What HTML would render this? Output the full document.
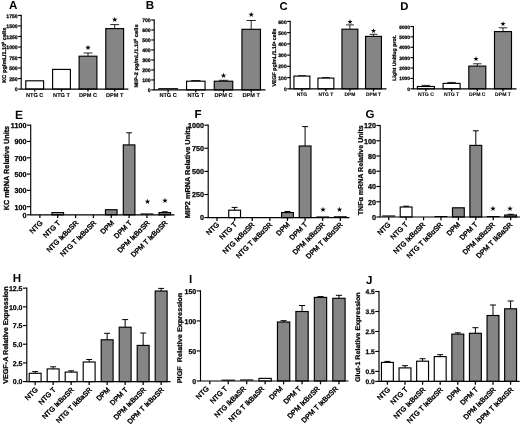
<!DOCTYPE html>
<html><head><meta charset="utf-8"><title>Figure</title>
<style>
html,body{margin:0;padding:0;background:#fff;}
svg{display:block;font-family:"Liberation Sans", Arial, sans-serif;fill:#000;}
.s text{stroke:#000;stroke-width:0.1px;}
text.b{stroke:#000;stroke-width:0.25px;}
text.r{stroke:#000;stroke-width:0.4px;}
text.st{font-family:'DejaVu Sans','Liberation Sans',sans-serif;stroke:none !important;}
</style></head><body>
<svg width="520" height="429" viewBox="0 0 520 429" text-rendering="geometricPrecision">
<rect width="520" height="429" fill="#fff"/>
<defs><filter id="bl" x="0" y="0" width="520" height="429" filterUnits="userSpaceOnUse" color-interpolation-filters="sRGB"><feGaussianBlur stdDeviation="0.4"/></filter></defs>
<g filter="url(#bl)">
<g class="s">
<rect x="25.80" y="80.80" width="17.80" height="8.30" fill="white" stroke="#000" stroke-width="1.15"/>
<rect x="52.60" y="69.40" width="17.80" height="19.70" fill="white" stroke="#000" stroke-width="1.15"/>
<path d="M88.00 56.20V53.00M83.55 53.00H92.45" stroke="#000" stroke-width="0.85" fill="none"/>
<rect x="79.10" y="56.20" width="17.80" height="32.90" fill="#858585" stroke="#000" stroke-width="1.15"/>
<text class="st" x="88.00" y="50.08" font-size="7.26" text-anchor="middle">&#9733;</text>
<path d="M114.70 28.60V24.60M110.25 24.60H119.15" stroke="#000" stroke-width="0.85" fill="none"/>
<rect x="105.80" y="28.60" width="17.80" height="60.50" fill="#858585" stroke="#000" stroke-width="1.15"/>
<text class="st" x="114.70" y="22.18" font-size="7.26" text-anchor="middle">&#9733;</text>
<path d="M21.20 14.83V89.10H128.40" stroke="#000" stroke-width="1.15" fill="none" stroke-linejoin="miter"/>
<line x1="18.20" y1="89.10" x2="21.20" y2="89.10" stroke="#000" stroke-width="1.15"/>
<text class="b" x="17.70" y="91.24" font-size="5.10" text-anchor="end" font-weight="bold">0</text>
<line x1="18.20" y1="78.57" x2="21.20" y2="78.57" stroke="#000" stroke-width="1.15"/>
<text class="b" x="17.70" y="80.71" font-size="5.10" text-anchor="end" font-weight="bold">250</text>
<line x1="18.20" y1="68.04" x2="21.20" y2="68.04" stroke="#000" stroke-width="1.15"/>
<text class="b" x="17.70" y="70.18" font-size="5.10" text-anchor="end" font-weight="bold">500</text>
<line x1="18.20" y1="57.51" x2="21.20" y2="57.51" stroke="#000" stroke-width="1.15"/>
<text class="b" x="17.70" y="59.65" font-size="5.10" text-anchor="end" font-weight="bold">750</text>
<line x1="18.20" y1="46.99" x2="21.20" y2="46.99" stroke="#000" stroke-width="1.15"/>
<text class="b" x="17.70" y="49.12" font-size="5.10" text-anchor="end" font-weight="bold">1000</text>
<line x1="18.20" y1="36.46" x2="21.20" y2="36.46" stroke="#000" stroke-width="1.15"/>
<text class="b" x="17.70" y="38.59" font-size="5.10" text-anchor="end" font-weight="bold">1250</text>
<line x1="18.20" y1="25.93" x2="21.20" y2="25.93" stroke="#000" stroke-width="1.15"/>
<text class="b" x="17.70" y="28.06" font-size="5.10" text-anchor="end" font-weight="bold">1500</text>
<line x1="18.20" y1="15.40" x2="21.20" y2="15.40" stroke="#000" stroke-width="1.15"/>
<text class="b" x="17.70" y="17.54" font-size="5.10" text-anchor="end" font-weight="bold">1750</text>
<line x1="34.70" y1="89.10" x2="34.70" y2="91.60" stroke="#000" stroke-width="1.25"/>
<text x="34.70" y="96.60" font-size="5.60" text-anchor="middle" font-weight="bold">NTG C</text>
<line x1="61.50" y1="89.10" x2="61.50" y2="91.60" stroke="#000" stroke-width="1.25"/>
<text x="61.50" y="96.60" font-size="5.60" text-anchor="middle" font-weight="bold">NTG T</text>
<line x1="88.00" y1="89.10" x2="88.00" y2="91.60" stroke="#000" stroke-width="1.25"/>
<text x="88.00" y="96.60" font-size="5.60" text-anchor="middle" font-weight="bold">DPM C</text>
<line x1="114.70" y1="89.10" x2="114.70" y2="91.60" stroke="#000" stroke-width="1.25"/>
<text x="114.70" y="96.60" font-size="5.60" text-anchor="middle" font-weight="bold">DPM T</text>
<text class="b" transform="translate(5.90 55.20) rotate(-90)" font-size="5.40" text-anchor="middle" font-weight="bold" textLength="55.0" lengthAdjust="spacingAndGlyphs">KC pg/mL/1.10<tspan font-size="3.2" dy="-2.2">5</tspan><tspan dy="2.2"> </tspan>cells</text>
</g>
<text x="8.90" y="9.00" font-size="11.60" font-weight="bold">A</text>
<g class="s">
<line x1="158.25" y1="88.70" x2="177.95" y2="88.70" stroke="#000" stroke-width="1.15"/>
<path d="M195.80 81.20V80.50M191.18 80.50H200.43" stroke="#000" stroke-width="0.85" fill="none"/>
<rect x="186.55" y="81.20" width="18.50" height="8.70" fill="white" stroke="#000" stroke-width="1.15"/>
<path d="M223.50 81.20V80.30M218.88 80.30H228.12" stroke="#000" stroke-width="0.85" fill="none"/>
<rect x="214.25" y="81.20" width="18.50" height="8.70" fill="#858585" stroke="#000" stroke-width="1.15"/>
<text class="st" x="223.50" y="78.08" font-size="7.26" text-anchor="middle">&#9733;</text>
<path d="M251.20 29.30V20.50M246.57 20.50H255.82" stroke="#000" stroke-width="0.85" fill="none"/>
<rect x="241.95" y="29.30" width="18.50" height="60.60" fill="#858585" stroke="#000" stroke-width="1.15"/>
<text class="st" x="251.20" y="17.38" font-size="7.26" text-anchor="middle">&#9733;</text>
<path d="M154.20 19.43V89.90H265.50" stroke="#000" stroke-width="1.15" fill="none" stroke-linejoin="miter"/>
<line x1="151.20" y1="89.90" x2="154.20" y2="89.90" stroke="#000" stroke-width="1.15"/>
<text class="b" x="150.70" y="92.04" font-size="5.10" text-anchor="end" font-weight="bold">0</text>
<line x1="151.20" y1="79.91" x2="154.20" y2="79.91" stroke="#000" stroke-width="1.15"/>
<text class="b" x="150.70" y="82.05" font-size="5.10" text-anchor="end" font-weight="bold">100</text>
<line x1="151.20" y1="69.93" x2="154.20" y2="69.93" stroke="#000" stroke-width="1.15"/>
<text class="b" x="150.70" y="72.06" font-size="5.10" text-anchor="end" font-weight="bold">200</text>
<line x1="151.20" y1="59.94" x2="154.20" y2="59.94" stroke="#000" stroke-width="1.15"/>
<text class="b" x="150.70" y="62.08" font-size="5.10" text-anchor="end" font-weight="bold">300</text>
<line x1="151.20" y1="49.96" x2="154.20" y2="49.96" stroke="#000" stroke-width="1.15"/>
<text class="b" x="150.70" y="52.09" font-size="5.10" text-anchor="end" font-weight="bold">400</text>
<line x1="151.20" y1="39.97" x2="154.20" y2="39.97" stroke="#000" stroke-width="1.15"/>
<text class="b" x="150.70" y="42.11" font-size="5.10" text-anchor="end" font-weight="bold">500</text>
<line x1="151.20" y1="29.99" x2="154.20" y2="29.99" stroke="#000" stroke-width="1.15"/>
<text class="b" x="150.70" y="32.12" font-size="5.10" text-anchor="end" font-weight="bold">600</text>
<line x1="151.20" y1="20.00" x2="154.20" y2="20.00" stroke="#000" stroke-width="1.15"/>
<text class="b" x="150.70" y="22.14" font-size="5.10" text-anchor="end" font-weight="bold">700</text>
<line x1="168.10" y1="89.90" x2="168.10" y2="92.40" stroke="#000" stroke-width="1.25"/>
<text x="168.10" y="97.40" font-size="5.60" text-anchor="middle" font-weight="bold">NTG C</text>
<line x1="195.80" y1="89.90" x2="195.80" y2="92.40" stroke="#000" stroke-width="1.25"/>
<text x="195.80" y="97.40" font-size="5.60" text-anchor="middle" font-weight="bold">NTG T</text>
<line x1="223.50" y1="89.90" x2="223.50" y2="92.40" stroke="#000" stroke-width="1.25"/>
<text x="223.50" y="97.40" font-size="5.60" text-anchor="middle" font-weight="bold">DPM C</text>
<line x1="251.20" y1="89.90" x2="251.20" y2="92.40" stroke="#000" stroke-width="1.25"/>
<text x="251.20" y="97.40" font-size="5.60" text-anchor="middle" font-weight="bold">DPM T</text>
<text class="b" transform="translate(138.40 55.90) rotate(-90)" font-size="5.20" text-anchor="middle" font-weight="bold" textLength="63.0" lengthAdjust="spacingAndGlyphs">MIP-2 pg/mL/1.10<tspan font-size="3.1" dy="-2.1">5</tspan><tspan dy="2.1"> </tspan>cells</text>
</g>
<text x="145.80" y="9.40" font-size="11.60" font-weight="bold">B</text>
<g class="s">
<path d="M301.90 76.10V75.70M297.92 75.70H305.88" stroke="#000" stroke-width="0.85" fill="none"/>
<rect x="293.95" y="76.10" width="15.90" height="12.70" fill="white" stroke="#000" stroke-width="1.15"/>
<path d="M325.90 78.10V77.60M321.92 77.60H329.88" stroke="#000" stroke-width="0.85" fill="none"/>
<rect x="317.95" y="78.10" width="15.90" height="10.70" fill="white" stroke="#000" stroke-width="1.15"/>
<path d="M349.90 29.20V24.90M345.92 24.90H353.88" stroke="#000" stroke-width="0.85" fill="none"/>
<rect x="341.95" y="29.20" width="15.90" height="59.60" fill="#858585" stroke="#000" stroke-width="1.15"/>
<text class="st" x="349.90" y="24.01" font-size="6.73" text-anchor="middle">&#9733;</text>
<path d="M373.50 36.40V34.30M369.52 34.30H377.48" stroke="#000" stroke-width="0.85" fill="none"/>
<rect x="365.55" y="36.40" width="15.90" height="52.40" fill="#858585" stroke="#000" stroke-width="1.15"/>
<text class="st" x="373.50" y="33.11" font-size="6.73" text-anchor="middle">&#9733;</text>
<path d="M290.20 20.82V88.80H386.50" stroke="#000" stroke-width="1.15" fill="none" stroke-linejoin="miter"/>
<line x1="287.20" y1="88.80" x2="290.20" y2="88.80" stroke="#000" stroke-width="1.15"/>
<text class="b" x="286.70" y="90.90" font-size="5.00" text-anchor="end" font-weight="bold">0</text>
<line x1="287.20" y1="77.57" x2="290.20" y2="77.57" stroke="#000" stroke-width="1.15"/>
<text class="b" x="286.70" y="79.67" font-size="5.00" text-anchor="end" font-weight="bold">100</text>
<line x1="287.20" y1="66.33" x2="290.20" y2="66.33" stroke="#000" stroke-width="1.15"/>
<text class="b" x="286.70" y="68.43" font-size="5.00" text-anchor="end" font-weight="bold">200</text>
<line x1="287.20" y1="55.10" x2="290.20" y2="55.10" stroke="#000" stroke-width="1.15"/>
<text class="b" x="286.70" y="57.20" font-size="5.00" text-anchor="end" font-weight="bold">300</text>
<line x1="287.20" y1="43.87" x2="290.20" y2="43.87" stroke="#000" stroke-width="1.15"/>
<text class="b" x="286.70" y="45.97" font-size="5.00" text-anchor="end" font-weight="bold">400</text>
<line x1="287.20" y1="32.63" x2="290.20" y2="32.63" stroke="#000" stroke-width="1.15"/>
<text class="b" x="286.70" y="34.73" font-size="5.00" text-anchor="end" font-weight="bold">500</text>
<line x1="287.20" y1="21.40" x2="290.20" y2="21.40" stroke="#000" stroke-width="1.15"/>
<text class="b" x="286.70" y="23.50" font-size="5.00" text-anchor="end" font-weight="bold">600</text>
<line x1="301.90" y1="88.80" x2="301.90" y2="91.30" stroke="#000" stroke-width="1.25"/>
<text x="301.90" y="95.80" font-size="4.90" text-anchor="middle" font-weight="bold">NTG</text>
<line x1="325.90" y1="88.80" x2="325.90" y2="91.30" stroke="#000" stroke-width="1.25"/>
<text x="325.90" y="95.80" font-size="4.90" text-anchor="middle" font-weight="bold">NTG T</text>
<line x1="349.90" y1="88.80" x2="349.90" y2="91.30" stroke="#000" stroke-width="1.25"/>
<text x="349.90" y="95.80" font-size="4.90" text-anchor="middle" font-weight="bold">DPM</text>
<line x1="373.50" y1="88.80" x2="373.50" y2="91.30" stroke="#000" stroke-width="1.25"/>
<text x="373.50" y="95.80" font-size="4.90" text-anchor="middle" font-weight="bold">DPM T</text>
<text class="b" transform="translate(276.40 57.50) rotate(-90)" font-size="5.30" text-anchor="middle" font-weight="bold" textLength="58.0" lengthAdjust="spacingAndGlyphs">VEGF pg/mL/1.10<tspan font-size="2.9" dy="-1.9">6</tspan><tspan dy="1.9"> </tspan>cells</text>
</g>
<text x="279.50" y="9.50" font-size="11.30" font-weight="bold">C</text>
<g class="s">
<path d="M425.90 86.50V85.40M421.65 85.40H430.15" stroke="#000" stroke-width="0.85" fill="none"/>
<rect x="417.40" y="86.50" width="17.00" height="2.30" fill="white" stroke="#000" stroke-width="1.15"/>
<path d="M451.60 83.40V82.40M447.35 82.40H455.85" stroke="#000" stroke-width="0.85" fill="none"/>
<rect x="443.10" y="83.40" width="17.00" height="5.40" fill="white" stroke="#000" stroke-width="1.15"/>
<path d="M477.30 66.10V63.80M473.05 63.80H481.55" stroke="#000" stroke-width="0.85" fill="none"/>
<rect x="468.80" y="66.10" width="17.00" height="22.70" fill="#858585" stroke="#000" stroke-width="1.15"/>
<text class="st" x="475.90" y="61.41" font-size="6.73" text-anchor="middle">&#9733;</text>
<path d="M503.00 31.60V27.80M498.75 27.80H507.25" stroke="#000" stroke-width="0.85" fill="none"/>
<rect x="494.50" y="31.60" width="17.00" height="57.20" fill="#858585" stroke="#000" stroke-width="1.15"/>
<text class="st" x="503.00" y="25.61" font-size="6.73" text-anchor="middle">&#9733;</text>
<path d="M413.40 25.93V88.80H516.50" stroke="#000" stroke-width="1.15" fill="none" stroke-linejoin="miter"/>
<line x1="410.40" y1="88.80" x2="413.40" y2="88.80" stroke="#000" stroke-width="1.15"/>
<text class="b" x="409.90" y="90.83" font-size="4.80" text-anchor="end" font-weight="bold">0</text>
<line x1="410.40" y1="78.42" x2="413.40" y2="78.42" stroke="#000" stroke-width="1.15"/>
<text class="b" x="409.90" y="80.44" font-size="4.80" text-anchor="end" font-weight="bold">1000</text>
<line x1="410.40" y1="68.03" x2="413.40" y2="68.03" stroke="#000" stroke-width="1.15"/>
<text class="b" x="409.90" y="70.06" font-size="4.80" text-anchor="end" font-weight="bold">2000</text>
<line x1="410.40" y1="57.65" x2="413.40" y2="57.65" stroke="#000" stroke-width="1.15"/>
<text class="b" x="409.90" y="59.68" font-size="4.80" text-anchor="end" font-weight="bold">3000</text>
<line x1="410.40" y1="47.27" x2="413.40" y2="47.27" stroke="#000" stroke-width="1.15"/>
<text class="b" x="409.90" y="49.29" font-size="4.80" text-anchor="end" font-weight="bold">4000</text>
<line x1="410.40" y1="36.88" x2="413.40" y2="36.88" stroke="#000" stroke-width="1.15"/>
<text class="b" x="409.90" y="38.91" font-size="4.80" text-anchor="end" font-weight="bold">5000</text>
<line x1="410.40" y1="26.50" x2="413.40" y2="26.50" stroke="#000" stroke-width="1.15"/>
<text class="b" x="409.90" y="28.53" font-size="4.80" text-anchor="end" font-weight="bold">6000</text>
<line x1="425.90" y1="88.80" x2="425.90" y2="91.30" stroke="#000" stroke-width="1.25"/>
<text x="425.90" y="95.80" font-size="5.10" text-anchor="middle" font-weight="bold">NTG C</text>
<line x1="451.60" y1="88.80" x2="451.60" y2="91.30" stroke="#000" stroke-width="1.25"/>
<text x="451.60" y="95.80" font-size="5.10" text-anchor="middle" font-weight="bold">NTG T</text>
<line x1="477.30" y1="88.80" x2="477.30" y2="91.30" stroke="#000" stroke-width="1.25"/>
<text x="477.30" y="95.80" font-size="5.10" text-anchor="middle" font-weight="bold">DPM C</text>
<line x1="503.00" y1="88.80" x2="503.00" y2="91.30" stroke="#000" stroke-width="1.25"/>
<text x="503.00" y="95.80" font-size="5.10" text-anchor="middle" font-weight="bold">DPM T</text>
<text class="b" transform="translate(396.00 57.90) rotate(-90)" font-size="5.00" text-anchor="middle" font-weight="bold" textLength="45.5" lengthAdjust="spacingAndGlyphs">Light Unit/ug prot.</text>
</g>
<text x="400.20" y="9.60" font-size="11.30" font-weight="bold">D</text>
<g class="n">
<rect x="51.94" y="212.60" width="11.60" height="2.20" fill="#bbb" stroke="#000" stroke-width="1.15"/>
<rect x="105.46" y="209.70" width="11.60" height="5.10" fill="#858585" stroke="#000" stroke-width="1.15"/>
<path d="M129.10 144.90V132.80M126.20 132.80H132.00" stroke="#000" stroke-width="1.00" fill="none"/>
<rect x="123.30" y="144.90" width="11.60" height="69.90" fill="#858585" stroke="#000" stroke-width="1.15"/>
<line x1="140.54" y1="214.00" x2="153.34" y2="214.00" stroke="#000" stroke-width="1.15"/>
<text class="st" x="147.50" y="204.38" font-size="7.26" text-anchor="middle">&#9733;</text>
<path d="M164.78 212.60V211.80M161.88 211.80H167.68" stroke="#000" stroke-width="1.00" fill="none"/>
<rect x="158.98" y="212.60" width="11.60" height="2.20" fill="#858585" stroke="#000" stroke-width="1.15"/>
<text class="st" x="165.00" y="203.28" font-size="7.26" text-anchor="middle">&#9733;</text>
<path d="M30.70 124.58V214.80H174.50" stroke="#000" stroke-width="1.15" fill="none" stroke-linejoin="miter"/>
<line x1="26.90" y1="214.80" x2="30.70" y2="214.80" stroke="#000" stroke-width="1.15"/>
<text class="b" x="26.40" y="217.69" font-size="7.20" text-anchor="end" font-weight="bold">0</text>
<line x1="26.90" y1="206.65" x2="30.70" y2="206.65" stroke="#000" stroke-width="1.15"/>
<text class="b" x="26.40" y="209.54" font-size="7.20" text-anchor="end" font-weight="bold">100</text>
<line x1="26.90" y1="190.35" x2="30.70" y2="190.35" stroke="#000" stroke-width="1.15"/>
<text class="b" x="26.40" y="193.24" font-size="7.20" text-anchor="end" font-weight="bold">300</text>
<line x1="26.90" y1="174.05" x2="30.70" y2="174.05" stroke="#000" stroke-width="1.15"/>
<text class="b" x="26.40" y="176.94" font-size="7.20" text-anchor="end" font-weight="bold">500</text>
<line x1="26.90" y1="157.75" x2="30.70" y2="157.75" stroke="#000" stroke-width="1.15"/>
<text class="b" x="26.40" y="160.64" font-size="7.20" text-anchor="end" font-weight="bold">700</text>
<line x1="26.90" y1="141.45" x2="30.70" y2="141.45" stroke="#000" stroke-width="1.15"/>
<text class="b" x="26.40" y="144.34" font-size="7.20" text-anchor="end" font-weight="bold">900</text>
<line x1="26.90" y1="125.15" x2="30.70" y2="125.15" stroke="#000" stroke-width="1.15"/>
<text class="b" x="26.40" y="128.04" font-size="7.20" text-anchor="end" font-weight="bold">1100</text>
<line x1="39.90" y1="214.80" x2="39.90" y2="218.10" stroke="#000" stroke-width="1.25"/>
<text class="r" transform="translate(43.10 223.40) rotate(-45)" font-size="7.10" text-anchor="end" font-weight="normal">NTG</text>
<line x1="57.74" y1="214.80" x2="57.74" y2="218.10" stroke="#000" stroke-width="1.25"/>
<text class="r" transform="translate(60.94 223.40) rotate(-45)" font-size="7.10" text-anchor="end" font-weight="normal">NTG T</text>
<line x1="75.58" y1="214.80" x2="75.58" y2="218.10" stroke="#000" stroke-width="1.25"/>
<text class="r" transform="translate(78.78 223.40) rotate(-45)" font-size="7.10" text-anchor="end" font-weight="normal">NTG I<tspan font-weight="normal" letter-spacing="0.15">&#954;</tspan>B<tspan font-weight="normal" letter-spacing="0.2">&#945;</tspan>SR</text>
<line x1="93.42" y1="214.80" x2="93.42" y2="218.10" stroke="#000" stroke-width="1.25"/>
<text class="r" transform="translate(96.62 223.40) rotate(-45)" font-size="7.10" text-anchor="end" font-weight="normal">NTG T I<tspan font-weight="normal" letter-spacing="0.15">&#954;</tspan>B<tspan font-weight="normal" letter-spacing="0.2">&#945;</tspan>SR</text>
<line x1="111.26" y1="214.80" x2="111.26" y2="218.10" stroke="#000" stroke-width="1.25"/>
<text class="r" transform="translate(114.46 223.40) rotate(-45)" font-size="7.10" text-anchor="end" font-weight="normal">DPM</text>
<line x1="129.10" y1="214.80" x2="129.10" y2="218.10" stroke="#000" stroke-width="1.25"/>
<text class="r" transform="translate(132.30 223.40) rotate(-45)" font-size="7.10" text-anchor="end" font-weight="normal">DPM T</text>
<line x1="146.94" y1="214.80" x2="146.94" y2="218.10" stroke="#000" stroke-width="1.25"/>
<text class="r" transform="translate(150.14 223.40) rotate(-45)" font-size="7.10" text-anchor="end" font-weight="normal">DPM I<tspan font-weight="normal" letter-spacing="0.15">&#954;</tspan>B<tspan font-weight="normal" letter-spacing="0.2">&#945;</tspan>SR</text>
<line x1="164.78" y1="214.80" x2="164.78" y2="218.10" stroke="#000" stroke-width="1.25"/>
<text class="r" transform="translate(167.98 223.40) rotate(-45)" font-size="7.10" text-anchor="end" font-weight="normal">DPM T I<tspan font-weight="normal" letter-spacing="0.15">&#954;</tspan>B<tspan font-weight="normal" letter-spacing="0.2">&#945;</tspan>SR</text>
<text class="b" transform="translate(9.00 168.10) rotate(-90)" font-size="7.40" text-anchor="middle" font-weight="bold" textLength="84.5" lengthAdjust="spacingAndGlyphs">KC mRNA Relative Units</text>
</g>
<text x="14.90" y="118.80" font-size="12.00" font-weight="bold">E</text>
<g class="n">
<path d="M234.62 210.20V207.40M231.67 207.40H237.57" stroke="#000" stroke-width="1.00" fill="none"/>
<rect x="228.72" y="210.20" width="11.80" height="7.40" fill="white" stroke="#000" stroke-width="1.15"/>
<path d="M287.48 212.60V211.50M284.53 211.50H290.43" stroke="#000" stroke-width="1.00" fill="none"/>
<rect x="281.58" y="212.60" width="11.80" height="5.00" fill="#858585" stroke="#000" stroke-width="1.15"/>
<path d="M305.10 146.00V126.60M302.15 126.60H308.05" stroke="#000" stroke-width="1.00" fill="none"/>
<rect x="299.20" y="146.00" width="11.80" height="71.60" fill="#858585" stroke="#000" stroke-width="1.15"/>
<line x1="316.22" y1="217.00" x2="329.22" y2="217.00" stroke="#000" stroke-width="1.15"/>
<text class="st" x="323.00" y="211.68" font-size="7.26" text-anchor="middle">&#9733;</text>
<line x1="333.84" y1="216.80" x2="346.84" y2="216.80" stroke="#000" stroke-width="1.15"/>
<text class="st" x="339.50" y="211.68" font-size="7.26" text-anchor="middle">&#9733;</text>
<path d="M208.20 124.58V217.60H349.50" stroke="#000" stroke-width="1.15" fill="none" stroke-linejoin="miter"/>
<line x1="204.40" y1="217.60" x2="208.20" y2="217.60" stroke="#000" stroke-width="1.15"/>
<text class="b" x="203.90" y="220.49" font-size="7.20" text-anchor="end" font-weight="bold">0</text>
<line x1="204.40" y1="194.49" x2="208.20" y2="194.49" stroke="#000" stroke-width="1.15"/>
<text class="b" x="203.90" y="197.38" font-size="7.20" text-anchor="end" font-weight="bold">250</text>
<line x1="204.40" y1="171.38" x2="208.20" y2="171.38" stroke="#000" stroke-width="1.15"/>
<text class="b" x="203.90" y="174.27" font-size="7.20" text-anchor="end" font-weight="bold">500</text>
<line x1="204.40" y1="148.26" x2="208.20" y2="148.26" stroke="#000" stroke-width="1.15"/>
<text class="b" x="203.90" y="151.15" font-size="7.20" text-anchor="end" font-weight="bold">750</text>
<line x1="204.40" y1="125.15" x2="208.20" y2="125.15" stroke="#000" stroke-width="1.15"/>
<text class="b" x="203.90" y="128.04" font-size="7.20" text-anchor="end" font-weight="bold">1000</text>
<line x1="217.00" y1="217.60" x2="217.00" y2="220.90" stroke="#000" stroke-width="1.25"/>
<text class="r" transform="translate(219.70 225.00) rotate(-45)" font-size="7.10" text-anchor="end" font-weight="normal">NTG</text>
<line x1="234.62" y1="217.60" x2="234.62" y2="220.90" stroke="#000" stroke-width="1.25"/>
<text class="r" transform="translate(237.32 225.00) rotate(-45)" font-size="7.10" text-anchor="end" font-weight="normal">NTG T</text>
<line x1="252.24" y1="217.60" x2="252.24" y2="220.90" stroke="#000" stroke-width="1.25"/>
<text class="r" transform="translate(254.94 225.00) rotate(-45)" font-size="7.10" text-anchor="end" font-weight="normal">NTG I<tspan font-weight="normal" letter-spacing="0.15">&#954;</tspan>B<tspan font-weight="normal" letter-spacing="0.2">&#945;</tspan>SR</text>
<line x1="269.86" y1="217.60" x2="269.86" y2="220.90" stroke="#000" stroke-width="1.25"/>
<text class="r" transform="translate(272.56 225.00) rotate(-45)" font-size="7.10" text-anchor="end" font-weight="normal">NTG T I<tspan font-weight="normal" letter-spacing="0.15">&#954;</tspan>B<tspan font-weight="normal" letter-spacing="0.2">&#945;</tspan>SR</text>
<line x1="287.48" y1="217.60" x2="287.48" y2="220.90" stroke="#000" stroke-width="1.25"/>
<text class="r" transform="translate(290.18 225.00) rotate(-45)" font-size="7.10" text-anchor="end" font-weight="normal">DPM</text>
<line x1="305.10" y1="217.60" x2="305.10" y2="220.90" stroke="#000" stroke-width="1.25"/>
<text class="r" transform="translate(307.80 225.00) rotate(-45)" font-size="7.10" text-anchor="end" font-weight="normal">DPM T</text>
<line x1="322.72" y1="217.60" x2="322.72" y2="220.90" stroke="#000" stroke-width="1.25"/>
<text class="r" transform="translate(325.42 225.00) rotate(-45)" font-size="7.10" text-anchor="end" font-weight="normal">DPM I<tspan font-weight="normal" letter-spacing="0.15">&#954;</tspan>B<tspan font-weight="normal" letter-spacing="0.2">&#945;</tspan>SR</text>
<line x1="340.34" y1="217.60" x2="340.34" y2="220.90" stroke="#000" stroke-width="1.25"/>
<text class="r" transform="translate(343.04 225.00) rotate(-45)" font-size="7.10" text-anchor="end" font-weight="normal">DPM T I<tspan font-weight="normal" letter-spacing="0.15">&#954;</tspan>B<tspan font-weight="normal" letter-spacing="0.2">&#945;</tspan>SR</text>
<text class="b" transform="translate(190.30 172.30) rotate(-90)" font-size="7.10" text-anchor="middle" font-weight="bold" textLength="92.0" lengthAdjust="spacingAndGlyphs">MIP2 mRNA Relative Units</text>
</g>
<text x="194.50" y="118.10" font-size="11.50" font-weight="bold">F</text>
<g class="n">
<line x1="382.20" y1="216.00" x2="395.20" y2="216.00" stroke="#000" stroke-width="1.15"/>
<path d="M406.12 207.00V206.20M403.17 206.20H409.07" stroke="#000" stroke-width="1.00" fill="none"/>
<rect x="400.22" y="207.00" width="11.80" height="10.00" fill="white" stroke="#000" stroke-width="1.15"/>
<line x1="434.46" y1="216.60" x2="447.46" y2="216.60" stroke="#000" stroke-width="1.15"/>
<rect x="452.48" y="207.80" width="11.80" height="9.20" fill="#858585" stroke="#000" stroke-width="1.15"/>
<path d="M475.80 145.40V130.80M472.85 130.80H478.75" stroke="#000" stroke-width="1.00" fill="none"/>
<rect x="469.90" y="145.40" width="11.80" height="71.60" fill="#858585" stroke="#000" stroke-width="1.15"/>
<line x1="486.72" y1="216.60" x2="499.72" y2="216.60" stroke="#000" stroke-width="1.15"/>
<text class="st" x="493.00" y="210.88" font-size="7.26" text-anchor="middle">&#9733;</text>
<path d="M510.64 215.00V214.30M507.69 214.30H513.59" stroke="#000" stroke-width="1.00" fill="none"/>
<rect x="504.74" y="215.00" width="11.80" height="2.00" fill="#858585" stroke="#000" stroke-width="1.15"/>
<text class="st" x="510.00" y="210.88" font-size="7.26" text-anchor="middle">&#9733;</text>
<path d="M380.20 124.92V217.00H520.00" stroke="#000" stroke-width="1.15" fill="none" stroke-linejoin="miter"/>
<line x1="376.40" y1="217.00" x2="380.20" y2="217.00" stroke="#000" stroke-width="1.15"/>
<text class="b" x="375.90" y="219.89" font-size="7.20" text-anchor="end" font-weight="bold">0</text>
<line x1="376.40" y1="201.75" x2="380.20" y2="201.75" stroke="#000" stroke-width="1.15"/>
<text class="b" x="375.90" y="204.64" font-size="7.20" text-anchor="end" font-weight="bold">20</text>
<line x1="376.40" y1="186.50" x2="380.20" y2="186.50" stroke="#000" stroke-width="1.15"/>
<text class="b" x="375.90" y="189.39" font-size="7.20" text-anchor="end" font-weight="bold">40</text>
<line x1="376.40" y1="171.25" x2="380.20" y2="171.25" stroke="#000" stroke-width="1.15"/>
<text class="b" x="375.90" y="174.14" font-size="7.20" text-anchor="end" font-weight="bold">60</text>
<line x1="376.40" y1="156.00" x2="380.20" y2="156.00" stroke="#000" stroke-width="1.15"/>
<text class="b" x="375.90" y="158.89" font-size="7.20" text-anchor="end" font-weight="bold">80</text>
<line x1="376.40" y1="140.75" x2="380.20" y2="140.75" stroke="#000" stroke-width="1.15"/>
<text class="b" x="375.90" y="143.64" font-size="7.20" text-anchor="end" font-weight="bold">100</text>
<line x1="376.40" y1="125.50" x2="380.20" y2="125.50" stroke="#000" stroke-width="1.15"/>
<text class="b" x="375.90" y="128.39" font-size="7.20" text-anchor="end" font-weight="bold">120</text>
<line x1="388.70" y1="217.00" x2="388.70" y2="220.30" stroke="#000" stroke-width="1.25"/>
<text class="r" transform="translate(390.90 225.00) rotate(-45)" font-size="7.10" text-anchor="end" font-weight="normal">NTG</text>
<line x1="406.12" y1="217.00" x2="406.12" y2="220.30" stroke="#000" stroke-width="1.25"/>
<text class="r" transform="translate(408.32 225.00) rotate(-45)" font-size="7.10" text-anchor="end" font-weight="normal">NTG T</text>
<line x1="423.54" y1="217.00" x2="423.54" y2="220.30" stroke="#000" stroke-width="1.25"/>
<text class="r" transform="translate(425.74 225.00) rotate(-45)" font-size="7.10" text-anchor="end" font-weight="normal">NTG I<tspan font-weight="normal" letter-spacing="0.15">&#954;</tspan>B<tspan font-weight="normal" letter-spacing="0.2">&#945;</tspan>SR</text>
<line x1="440.96" y1="217.00" x2="440.96" y2="220.30" stroke="#000" stroke-width="1.25"/>
<text class="r" transform="translate(443.16 225.00) rotate(-45)" font-size="7.10" text-anchor="end" font-weight="normal">NTG T I<tspan font-weight="normal" letter-spacing="0.15">&#954;</tspan>B<tspan font-weight="normal" letter-spacing="0.2">&#945;</tspan>SR</text>
<line x1="458.38" y1="217.00" x2="458.38" y2="220.30" stroke="#000" stroke-width="1.25"/>
<text class="r" transform="translate(460.58 225.00) rotate(-45)" font-size="7.10" text-anchor="end" font-weight="normal">DPM</text>
<line x1="475.80" y1="217.00" x2="475.80" y2="220.30" stroke="#000" stroke-width="1.25"/>
<text class="r" transform="translate(478.00 225.00) rotate(-45)" font-size="7.10" text-anchor="end" font-weight="normal">DPM T</text>
<line x1="493.22" y1="217.00" x2="493.22" y2="220.30" stroke="#000" stroke-width="1.25"/>
<text class="r" transform="translate(495.42 225.00) rotate(-45)" font-size="7.10" text-anchor="end" font-weight="normal">DPM I<tspan font-weight="normal" letter-spacing="0.15">&#954;</tspan>B<tspan font-weight="normal" letter-spacing="0.2">&#945;</tspan>SR</text>
<line x1="510.64" y1="217.00" x2="510.64" y2="220.30" stroke="#000" stroke-width="1.25"/>
<text class="r" transform="translate(512.84 225.00) rotate(-45)" font-size="7.10" text-anchor="end" font-weight="normal">DPM T IkBaSR</text>
<text class="b" transform="translate(362.80 170.20) rotate(-90)" font-size="7.10" text-anchor="middle" font-weight="bold" textLength="90.0" lengthAdjust="spacingAndGlyphs">TNF&#945; mRNA Relative Units</text>
</g>
<text x="365.60" y="117.70" font-size="11.50" font-weight="bold">G</text>
<g class="n">
<path d="M35.15 373.30V371.60M32.17 371.60H38.12" stroke="#000" stroke-width="1.00" fill="none"/>
<rect x="29.20" y="373.30" width="11.90" height="8.30" fill="white" stroke="#000" stroke-width="1.15"/>
<path d="M53.15 368.90V366.80M50.17 366.80H56.12" stroke="#000" stroke-width="1.00" fill="none"/>
<rect x="47.20" y="368.90" width="11.90" height="12.70" fill="white" stroke="#000" stroke-width="1.15"/>
<path d="M71.15 372.10V370.80M68.18 370.80H74.12" stroke="#000" stroke-width="1.00" fill="none"/>
<rect x="65.20" y="372.10" width="11.90" height="9.50" fill="white" stroke="#000" stroke-width="1.15"/>
<path d="M89.15 362.00V359.50M86.18 359.50H92.12" stroke="#000" stroke-width="1.00" fill="none"/>
<rect x="83.20" y="362.00" width="11.90" height="19.60" fill="white" stroke="#000" stroke-width="1.15"/>
<path d="M107.15 339.80V333.30M104.18 333.30H110.12" stroke="#000" stroke-width="1.00" fill="none"/>
<rect x="101.20" y="339.80" width="11.90" height="41.80" fill="#858585" stroke="#000" stroke-width="1.15"/>
<path d="M125.15 327.20V319.60M122.18 319.60H128.12" stroke="#000" stroke-width="1.00" fill="none"/>
<rect x="119.20" y="327.20" width="11.90" height="54.40" fill="#858585" stroke="#000" stroke-width="1.15"/>
<path d="M143.15 345.40V333.00M140.18 333.00H146.12" stroke="#000" stroke-width="1.00" fill="none"/>
<rect x="137.20" y="345.40" width="11.90" height="36.20" fill="#858585" stroke="#000" stroke-width="1.15"/>
<path d="M161.15 291.00V288.40M158.18 288.40H164.12" stroke="#000" stroke-width="1.00" fill="none"/>
<rect x="155.20" y="291.00" width="11.90" height="90.60" fill="#858585" stroke="#000" stroke-width="1.15"/>
<path d="M26.80 287.57V381.60H170.50" stroke="#000" stroke-width="1.15" fill="none" stroke-linejoin="miter"/>
<line x1="23.00" y1="381.60" x2="26.80" y2="381.60" stroke="#000" stroke-width="1.15"/>
<text class="b" x="22.50" y="384.42" font-size="7.00" text-anchor="end" font-weight="bold">0.0</text>
<line x1="23.00" y1="362.91" x2="26.80" y2="362.91" stroke="#000" stroke-width="1.15"/>
<text class="b" x="22.50" y="365.73" font-size="7.00" text-anchor="end" font-weight="bold">2.5</text>
<line x1="23.00" y1="344.22" x2="26.80" y2="344.22" stroke="#000" stroke-width="1.15"/>
<text class="b" x="22.50" y="347.04" font-size="7.00" text-anchor="end" font-weight="bold">5.0</text>
<line x1="23.00" y1="325.53" x2="26.80" y2="325.53" stroke="#000" stroke-width="1.15"/>
<text class="b" x="22.50" y="328.35" font-size="7.00" text-anchor="end" font-weight="bold">7.5</text>
<line x1="23.00" y1="306.84" x2="26.80" y2="306.84" stroke="#000" stroke-width="1.15"/>
<text class="b" x="22.50" y="309.66" font-size="7.00" text-anchor="end" font-weight="bold">10.0</text>
<line x1="23.00" y1="288.15" x2="26.80" y2="288.15" stroke="#000" stroke-width="1.15"/>
<text class="b" x="22.50" y="290.97" font-size="7.00" text-anchor="end" font-weight="bold">12.5</text>
<line x1="35.15" y1="381.60" x2="35.15" y2="384.90" stroke="#000" stroke-width="1.25"/>
<text class="r" transform="translate(38.35 390.20) rotate(-45)" font-size="7.10" text-anchor="end" font-weight="normal">NTG</text>
<line x1="53.15" y1="381.60" x2="53.15" y2="384.90" stroke="#000" stroke-width="1.25"/>
<text class="r" transform="translate(56.35 390.20) rotate(-45)" font-size="7.10" text-anchor="end" font-weight="normal">NTG T</text>
<line x1="71.15" y1="381.60" x2="71.15" y2="384.90" stroke="#000" stroke-width="1.25"/>
<text class="r" transform="translate(74.35 390.20) rotate(-45)" font-size="7.10" text-anchor="end" font-weight="normal">NTG I<tspan font-weight="normal" letter-spacing="0.15">&#954;</tspan>B<tspan font-weight="normal" letter-spacing="0.2">&#945;</tspan>SR</text>
<line x1="89.15" y1="381.60" x2="89.15" y2="384.90" stroke="#000" stroke-width="1.25"/>
<text class="r" transform="translate(92.35 390.20) rotate(-45)" font-size="7.10" text-anchor="end" font-weight="normal">NTG T IkBaSR</text>
<line x1="107.15" y1="381.60" x2="107.15" y2="384.90" stroke="#000" stroke-width="1.25"/>
<text class="r" transform="translate(110.35 390.20) rotate(-45)" font-size="7.10" text-anchor="end" font-weight="normal">DPM</text>
<line x1="125.15" y1="381.60" x2="125.15" y2="384.90" stroke="#000" stroke-width="1.25"/>
<text class="r" transform="translate(128.35 390.20) rotate(-45)" font-size="7.10" text-anchor="end" font-weight="normal">DPM T</text>
<line x1="143.15" y1="381.60" x2="143.15" y2="384.90" stroke="#000" stroke-width="1.25"/>
<text class="r" transform="translate(146.35 390.20) rotate(-45)" font-size="7.10" text-anchor="end" font-weight="normal">DPM I<tspan font-weight="normal" letter-spacing="0.15">&#954;</tspan>B<tspan font-weight="normal" letter-spacing="0.2">&#945;</tspan>SR</text>
<line x1="161.15" y1="381.60" x2="161.15" y2="384.90" stroke="#000" stroke-width="1.25"/>
<text class="r" transform="translate(164.35 390.20) rotate(-45)" font-size="7.10" text-anchor="end" font-weight="normal">DPM T I<tspan font-weight="normal" letter-spacing="0.15">&#954;</tspan>B<tspan font-weight="normal" letter-spacing="0.2">&#945;</tspan>SR</text>
<text class="b" transform="translate(7.90 335.10) rotate(-90)" font-size="7.00" text-anchor="middle" font-weight="bold" textLength="97.5" lengthAdjust="spacingAndGlyphs">VEGF-A Relative Expression</text>
</g>
<text x="12.70" y="282.10" font-size="11.60" font-weight="bold">H</text>
<g class="n">
<line x1="221.50" y1="380.20" x2="235.00" y2="380.20" stroke="#000" stroke-width="1.15"/>
<line x1="239.95" y1="380.00" x2="253.45" y2="380.00" stroke="#000" stroke-width="1.15"/>
<rect x="259.00" y="378.40" width="12.30" height="2.60" fill="white" stroke="#000" stroke-width="1.15"/>
<path d="M283.60 322.00V320.70M280.53 320.70H286.68" stroke="#000" stroke-width="1.00" fill="none"/>
<rect x="277.45" y="322.00" width="12.30" height="59.00" fill="#858585" stroke="#000" stroke-width="1.15"/>
<path d="M302.05 311.50V305.50M298.98 305.50H305.12" stroke="#000" stroke-width="1.00" fill="none"/>
<rect x="295.90" y="311.50" width="12.30" height="69.50" fill="#858585" stroke="#000" stroke-width="1.15"/>
<path d="M320.50 297.40V296.60M317.43 296.60H323.57" stroke="#000" stroke-width="1.00" fill="none"/>
<rect x="314.35" y="297.40" width="12.30" height="83.60" fill="#858585" stroke="#000" stroke-width="1.15"/>
<path d="M338.95 298.30V295.30M335.88 295.30H342.03" stroke="#000" stroke-width="1.00" fill="none"/>
<rect x="332.80" y="298.30" width="12.30" height="82.70" fill="#858585" stroke="#000" stroke-width="1.15"/>
<path d="M200.50 290.32V381.00H348.50" stroke="#000" stroke-width="1.15" fill="none" stroke-linejoin="miter"/>
<line x1="196.70" y1="381.00" x2="200.50" y2="381.00" stroke="#000" stroke-width="1.15"/>
<text class="b" x="196.20" y="383.82" font-size="7.00" text-anchor="end" font-weight="bold">0</text>
<line x1="196.70" y1="350.97" x2="200.50" y2="350.97" stroke="#000" stroke-width="1.15"/>
<text class="b" x="196.20" y="353.79" font-size="7.00" text-anchor="end" font-weight="bold">50</text>
<line x1="196.70" y1="320.93" x2="200.50" y2="320.93" stroke="#000" stroke-width="1.15"/>
<text class="b" x="196.20" y="323.75" font-size="7.00" text-anchor="end" font-weight="bold">100</text>
<line x1="196.70" y1="290.90" x2="200.50" y2="290.90" stroke="#000" stroke-width="1.15"/>
<text class="b" x="196.20" y="293.72" font-size="7.00" text-anchor="end" font-weight="bold">150</text>
<line x1="209.80" y1="381.00" x2="209.80" y2="384.30" stroke="#000" stroke-width="1.25"/>
<text class="r" transform="translate(209.40 389.10) rotate(-45)" font-size="7.10" text-anchor="end" font-weight="normal">NTG</text>
<line x1="228.25" y1="381.00" x2="228.25" y2="384.30" stroke="#000" stroke-width="1.25"/>
<text class="r" transform="translate(227.85 389.10) rotate(-45)" font-size="7.10" text-anchor="end" font-weight="normal">NTG T</text>
<line x1="246.70" y1="381.00" x2="246.70" y2="384.30" stroke="#000" stroke-width="1.25"/>
<text class="r" transform="translate(246.30 389.10) rotate(-45)" font-size="7.10" text-anchor="end" font-weight="normal">NTG IkBaSR</text>
<line x1="265.15" y1="381.00" x2="265.15" y2="384.30" stroke="#000" stroke-width="1.25"/>
<text class="r" transform="translate(264.75 389.10) rotate(-45)" font-size="7.10" text-anchor="end" font-weight="normal">NTG T IkBaSR</text>
<line x1="283.60" y1="381.00" x2="283.60" y2="384.30" stroke="#000" stroke-width="1.25"/>
<text class="r" transform="translate(283.20 389.10) rotate(-45)" font-size="7.10" text-anchor="end" font-weight="normal">DPM</text>
<line x1="302.05" y1="381.00" x2="302.05" y2="384.30" stroke="#000" stroke-width="1.25"/>
<text class="r" transform="translate(301.65 389.10) rotate(-45)" font-size="7.10" text-anchor="end" font-weight="normal">DPM T</text>
<line x1="320.50" y1="381.00" x2="320.50" y2="384.30" stroke="#000" stroke-width="1.25"/>
<text class="r" transform="translate(320.10 389.10) rotate(-45)" font-size="7.10" text-anchor="end" font-weight="normal">DPM I<tspan font-weight="normal" letter-spacing="0.15">&#954;</tspan>B<tspan font-weight="normal" letter-spacing="0.2">&#945;</tspan>SR</text>
<line x1="338.95" y1="381.00" x2="338.95" y2="384.30" stroke="#000" stroke-width="1.25"/>
<text class="r" transform="translate(338.55 389.10) rotate(-45)" font-size="7.10" text-anchor="end" font-weight="normal">DPM T I<tspan font-weight="normal" letter-spacing="0.15">&#954;</tspan>B<tspan font-weight="normal" letter-spacing="0.2">&#945;</tspan>SR</text>
<text class="b" transform="translate(182.10 338.00) rotate(-90)" font-size="6.80" text-anchor="middle" font-weight="bold" textLength="90.5" lengthAdjust="spacingAndGlyphs">PlGF&#160; Relative Expression</text>
</g>
<text x="189.00" y="282.50" font-size="11.60" font-weight="bold">I</text>
<g class="n">
<path d="M387.40 362.40V361.40M384.42 361.40H390.38" stroke="#000" stroke-width="1.00" fill="none"/>
<rect x="381.45" y="362.40" width="11.90" height="19.00" fill="white" stroke="#000" stroke-width="1.15"/>
<path d="M405.00 367.90V365.70M402.02 365.70H407.98" stroke="#000" stroke-width="1.00" fill="none"/>
<rect x="399.05" y="367.90" width="11.90" height="13.50" fill="white" stroke="#000" stroke-width="1.15"/>
<path d="M422.60 361.20V358.70M419.62 358.70H425.57" stroke="#000" stroke-width="1.00" fill="none"/>
<rect x="416.65" y="361.20" width="11.90" height="20.20" fill="white" stroke="#000" stroke-width="1.15"/>
<path d="M440.20 356.60V354.70M437.22 354.70H443.18" stroke="#000" stroke-width="1.00" fill="none"/>
<rect x="434.25" y="356.60" width="11.90" height="24.80" fill="white" stroke="#000" stroke-width="1.15"/>
<path d="M457.80 334.10V332.80M454.82 332.80H460.77" stroke="#000" stroke-width="1.00" fill="none"/>
<rect x="451.85" y="334.10" width="11.90" height="47.30" fill="#858585" stroke="#000" stroke-width="1.15"/>
<path d="M475.40 333.30V327.70M472.42 327.70H478.38" stroke="#000" stroke-width="1.00" fill="none"/>
<rect x="469.45" y="333.30" width="11.90" height="48.10" fill="#858585" stroke="#000" stroke-width="1.15"/>
<path d="M493.00 315.50V305.00M490.02 305.00H495.98" stroke="#000" stroke-width="1.00" fill="none"/>
<rect x="487.05" y="315.50" width="11.90" height="65.90" fill="#858585" stroke="#000" stroke-width="1.15"/>
<path d="M510.60 308.80V301.00M507.62 301.00H513.58" stroke="#000" stroke-width="1.00" fill="none"/>
<rect x="504.65" y="308.80" width="11.90" height="72.60" fill="#858585" stroke="#000" stroke-width="1.15"/>
<path d="M379.00 290.93V381.40H519.60" stroke="#000" stroke-width="1.15" fill="none" stroke-linejoin="miter"/>
<line x1="375.20" y1="381.40" x2="379.00" y2="381.40" stroke="#000" stroke-width="1.15"/>
<text class="b" x="374.70" y="384.08" font-size="6.60" text-anchor="end" font-weight="bold">0.0</text>
<line x1="375.20" y1="371.41" x2="379.00" y2="371.41" stroke="#000" stroke-width="1.15"/>
<text class="b" x="374.70" y="374.09" font-size="6.60" text-anchor="end" font-weight="bold">0.5</text>
<line x1="375.20" y1="351.43" x2="379.00" y2="351.43" stroke="#000" stroke-width="1.15"/>
<text class="b" x="374.70" y="354.11" font-size="6.60" text-anchor="end" font-weight="bold">1.5</text>
<line x1="375.20" y1="331.46" x2="379.00" y2="331.46" stroke="#000" stroke-width="1.15"/>
<text class="b" x="374.70" y="334.13" font-size="6.60" text-anchor="end" font-weight="bold">2.5</text>
<line x1="375.20" y1="311.48" x2="379.00" y2="311.48" stroke="#000" stroke-width="1.15"/>
<text class="b" x="374.70" y="314.15" font-size="6.60" text-anchor="end" font-weight="bold">3.5</text>
<line x1="375.20" y1="291.50" x2="379.00" y2="291.50" stroke="#000" stroke-width="1.15"/>
<text class="b" x="374.70" y="294.18" font-size="6.60" text-anchor="end" font-weight="bold">4.5</text>
<line x1="387.40" y1="381.40" x2="387.40" y2="384.70" stroke="#000" stroke-width="1.25"/>
<text class="r" transform="translate(390.60 390.00) rotate(-45)" font-size="7.10" text-anchor="end" font-weight="normal">NTG</text>
<line x1="405.00" y1="381.40" x2="405.00" y2="384.70" stroke="#000" stroke-width="1.25"/>
<text class="r" transform="translate(408.20 390.00) rotate(-45)" font-size="7.10" text-anchor="end" font-weight="normal">NTG T</text>
<line x1="422.60" y1="381.40" x2="422.60" y2="384.70" stroke="#000" stroke-width="1.25"/>
<text class="r" transform="translate(425.80 390.00) rotate(-45)" font-size="7.10" text-anchor="end" font-weight="normal">NTG I<tspan font-weight="normal" letter-spacing="0.15">&#954;</tspan>B<tspan font-weight="normal" letter-spacing="0.2">&#945;</tspan>SR</text>
<line x1="440.20" y1="381.40" x2="440.20" y2="384.70" stroke="#000" stroke-width="1.25"/>
<text class="r" transform="translate(443.40 390.00) rotate(-45)" font-size="7.10" text-anchor="end" font-weight="normal">NTG T I<tspan font-weight="normal" letter-spacing="0.15">&#954;</tspan>B<tspan font-weight="normal" letter-spacing="0.2">&#945;</tspan>SR</text>
<line x1="457.80" y1="381.40" x2="457.80" y2="384.70" stroke="#000" stroke-width="1.25"/>
<text class="r" transform="translate(461.00 390.00) rotate(-45)" font-size="7.10" text-anchor="end" font-weight="normal">DPM</text>
<line x1="475.40" y1="381.40" x2="475.40" y2="384.70" stroke="#000" stroke-width="1.25"/>
<text class="r" transform="translate(478.60 390.00) rotate(-45)" font-size="7.10" text-anchor="end" font-weight="normal">DPM T</text>
<line x1="493.00" y1="381.40" x2="493.00" y2="384.70" stroke="#000" stroke-width="1.25"/>
<text class="r" transform="translate(496.20 390.00) rotate(-45)" font-size="7.10" text-anchor="end" font-weight="normal">DPM I<tspan font-weight="normal" letter-spacing="0.15">&#954;</tspan>B<tspan font-weight="normal" letter-spacing="0.2">&#945;</tspan>SR</text>
<line x1="510.60" y1="381.40" x2="510.60" y2="384.70" stroke="#000" stroke-width="1.25"/>
<text class="r" transform="translate(513.80 390.00) rotate(-45)" font-size="7.10" text-anchor="end" font-weight="normal">DPM T I<tspan font-weight="normal" letter-spacing="0.15">&#954;</tspan>B<tspan font-weight="normal" letter-spacing="0.2">&#945;</tspan>SR</text>
<text class="b" transform="translate(360.40 337.20) rotate(-90)" font-size="6.70" text-anchor="middle" font-weight="bold" textLength="89.8" lengthAdjust="spacingAndGlyphs">Glut-1 Relative Expression</text>
</g>
<text x="366.00" y="283.70" font-size="11.60" font-weight="bold">J</text>
</g>
</svg>
</body></html>
